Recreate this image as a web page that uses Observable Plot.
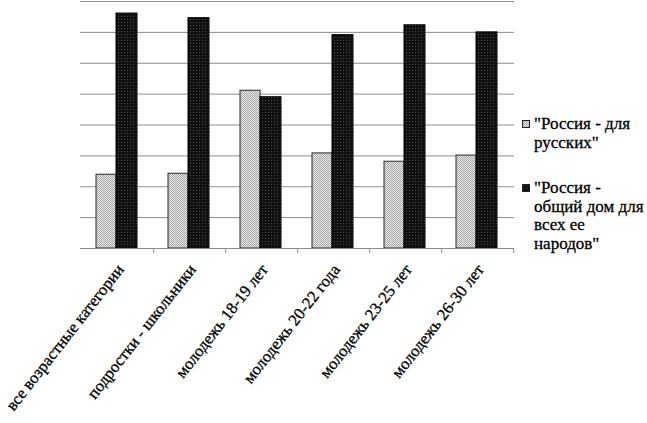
<!DOCTYPE html>
<html>
<head>
<meta charset="utf-8">
<script src="https://cdn.jsdelivr.net/npm/d3@7"></script>
<script src="https://cdn.jsdelivr.net/npm/@observablehq/plot@0.6"></script>
<style>
  html, body { margin: 0; padding: 0; background: #fff; overflow: hidden; }
  #wrap { position: relative; width: 647px; height: 423px; }
  #legend { position: absolute; left: 522px; top: 0; font-family: "Liberation Serif", "Times New Roman", serif; font-size: 17px; line-height: 18.5px; color: #000; -webkit-text-stroke: 0.3px #000; }
  .item { position: absolute; left: 0; width: 125px; }
  .item svg { position: absolute; left: 0; top: 5px; }
  .item .lbl { margin-left: 12px; width: 113px; font-family: "Liberation Serif", "Times New Roman", serif; }
</style>
</head>
<body>
<svg width="0" height="0" style="position:absolute">
  <defs>
    <pattern id="patLight" width="2" height="2" patternUnits="userSpaceOnUse">
      <rect width="2" height="2" fill="#e8e8e8"/>
      <rect width="1" height="1" fill="#a8a8a8"/>
      <rect x="1" y="1" width="1" height="1" fill="#a8a8a8"/>
    </pattern>
    <pattern id="patDark" width="3" height="3" patternUnits="userSpaceOnUse">
      <rect width="3" height="3" fill="#101010"/>
      <rect x="1" y="1" width="1" height="1" fill="#4a4a4a"/>
    </pattern>
  </defs>
</svg>
<div id="wrap"><div id="legend"></div></div>
<script>
const categories = [
  "все возрастные категории",
  "подростки - школьники",
  "молодежь 18-19 лет",
  "молодежь 20-22 года",
  "молодежь 23-25 лет",
  "молодежь 26-30 лет"
];
const seriesNames = ["\"Россия - для русских\"", "\"Россия - общий дом для всех ее народов\""];
const russiansOnly = [23.9, 24.2, 51.1, 30.8, 28.1, 30.1];
const commonHome = [76.1, 74.6, 49.0, 69.1, 72.3, 70.0];
const yTicks = [0, 10, 20, 30, 40, 50, 60, 70, 80];

const rowsA = categories.map((c, i) => ({cat: c, v: russiansOnly[i]}));
const rowsB = categories.map((c, i) => ({cat: c, v: commonHome[i]}));

const W = 647, H = 423, mL = 80, mR = 133, mT = 1, mB = 175;
const half = (W - mL - mR) / categories.length / 2;
const font = "Liberation Serif, Times New Roman, serif";
const gridColor = "#8c8c8c";

const chart = Plot.plot({
  width: W, height: H,
  marginLeft: mL, marginRight: mR, marginTop: mT, marginBottom: mB,
  style: {fontFamily: font, background: "transparent"},
  x: {domain: categories, padding: 0, axis: null},
  y: {domain: [0, 80], axis: null},
  marks: [
    Plot.gridY(yTicks, {stroke: gridColor, strokeOpacity: 1, strokeWidth: 1}),
    Plot.barY(rowsA, {x: "cat", y: "v", fill: "url(#patLight)", stroke: "#2a2a2a", strokeWidth: 1, insetLeft: 15, insetRight: 37}),
    Plot.barY(rowsB, {x: "cat", y: "v", fill: "url(#patDark)", stroke: "#000", strokeWidth: 1, insetLeft: 35, insetRight: 16}),
    Plot.ruleY([0], {stroke: gridColor, strokeWidth: 1}),
    Plot.ruleX(categories, {x: d => d, y1: 0, y2: 0, dx: half, insetBottom: -5, stroke: gridColor}),
    Plot.text(categories, {x: d => d, y: 0, text: d => d, rotate: -52, textAnchor: "end", lineAnchor: "middle", dx: 3, dy: 18, fontSize: 16.5, fill: "#000", stroke: "#000", strokeWidth: 0.3, fontFamily: font})
  ]
});
document.getElementById("wrap").prepend(chart);

const legend = document.getElementById("legend");
const fills = ["url(#patLight)", "url(#patDark)"];
const tops = [115, 179];
seriesNames.forEach((name, i) => {
  const item = document.createElement("div");
  item.className = "item";
  item.style.top = tops[i] + "px";
  item.innerHTML = `<svg width="8" height="8"><rect x="0.5" y="0.5" width="7" height="7" fill="${fills[i]}" stroke="#222"/></svg><div class="lbl"></div>`;
  item.querySelector(".lbl").textContent = name;
  legend.appendChild(item);
});
</script>
</body>
</html>
